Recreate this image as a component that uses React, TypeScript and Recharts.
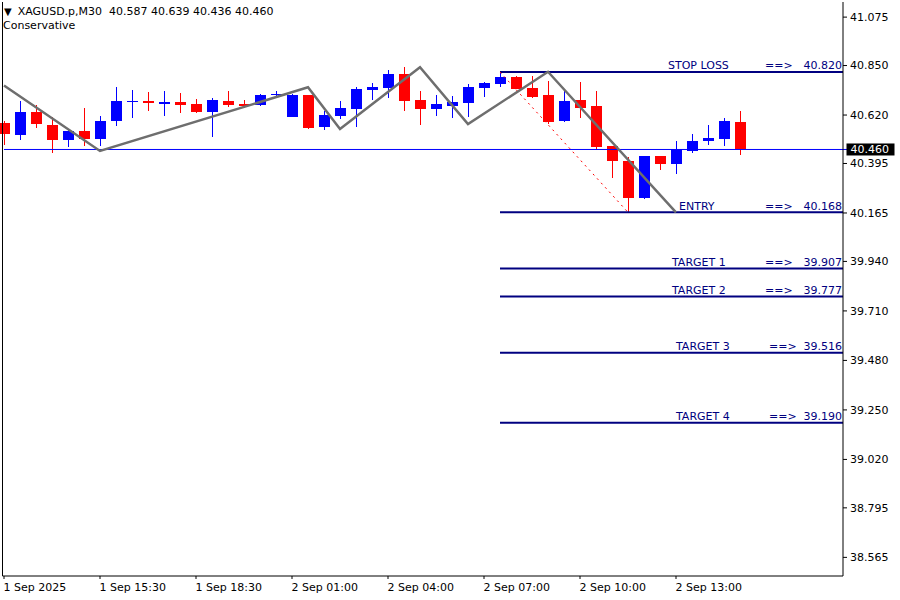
import { ComposedChart, Bar, Line, XAxis, YAxis, ReferenceLine } from 'recharts'

const FONT = '"DejaVu Sans", Tahoma, sans-serif'
const BULL = '#0000ff'
const BEAR = '#ff0000'
const LEVEL_COLOR = '#000080'
const ZIGZAG_COLOR = '#6e6e6e'

const symbol = 'XAGUSD.p,M30'
const strategy = 'Conservative'

// bottom axis labels, one every 6 bars
const timeLabels = ['1 Sep 2025', '1 Sep 15:30', '1 Sep 18:30', '2 Sep 01:00', '2 Sep 04:00', '2 Sep 07:00', '2 Sep 10:00', '2 Sep 13:00']
const timeLabelBars = [0, 6, 12, 18, 24, 30, 36, 42]

const opens = [
  40.584, 40.527, 40.633, 40.574, 40.505, 40.546, 40.510, 40.594, 40.681, 40.685,
  40.673, 40.681, 40.671, 40.636, 40.685, 40.671, 40.667, 40.712, 40.612, 40.713,
  40.566, 40.617, 40.649, 40.738, 40.747, 40.811, 40.690, 40.649, 40.663, 40.677,
  40.747, 40.766, 40.797, 40.746, 40.713, 40.594, 40.690, 40.662, 40.478, 40.406,
  40.233, 40.430, 40.394, 40.454, 40.499, 40.509, 40.587
]
const highs = [
  40.592, 40.687, 40.665, 40.612, 40.549, 40.651, 40.616, 40.750, 40.736, 40.727,
  40.732, 40.722, 40.695, 40.699, 40.732, 40.690, 40.718, 40.732, 40.718, 40.714,
  40.639, 40.685, 40.750, 40.769, 40.831, 40.843, 40.732, 40.713, 40.708, 40.764,
  40.773, 40.825, 40.801, 40.801, 40.778, 40.732, 40.773, 40.732, 40.478, 40.425,
  40.430, 40.430, 40.499, 40.532, 40.574, 40.606, 40.639
]
const lows = [
  40.481, 40.504, 40.561, 40.445, 40.473, 40.476, 40.476, 40.570, 40.608, 40.639,
  40.616, 40.629, 40.629, 40.519, 40.659, 40.654, 40.662, 40.702, 40.611, 40.555,
  40.552, 40.603, 40.566, 40.691, 40.698, 40.640, 40.575, 40.616, 40.608, 40.611,
  40.704, 40.752, 40.742, 40.698, 40.580, 40.589, 40.608, 40.459, 40.329, 40.168,
  40.230, 40.365, 40.347, 40.444, 40.481, 40.476, 40.436
]
const closes = [
  40.533, 40.634, 40.580, 40.505, 40.546, 40.510, 40.592, 40.685, 40.685, 40.677,
  40.681, 40.668, 40.636, 40.690, 40.668, 40.663, 40.713, 40.716, 40.713, 40.561,
  40.620, 40.654, 40.741, 40.752, 40.811, 40.687, 40.649, 40.671, 40.681, 40.750,
  40.769, 40.797, 40.742, 40.704, 40.589, 40.685, 40.654, 40.473, 40.408, 40.236,
  40.430, 40.394, 40.462, 40.499, 40.513, 40.592, 40.460
]

const zigzagBars = [0, 6, 19, 21, 26, 29, 34, 42]
const zigzagPrices = [40.757, 40.453, 40.749, 40.555, 40.842, 40.578, 40.821, 40.168]

const signalBars = [31, 39]
const signalPrices = [40.820, 40.168]

const levelNames = ['STOP LOSS', 'ENTRY', 'TARGET 1', 'TARGET 2', 'TARGET 3', 'TARGET 4']
const levelPrices = [40.820, 40.168, 39.907, 39.777, 39.516, 39.190]
const levelStartBar = 31

const priceTicks = [41.075, 40.850, 40.620, 40.395, 40.165, 39.940, 39.710, 39.480, 39.250, 39.020, 38.795, 38.565]
const lastPrice = 40.460

// layout
const SLOTS = 54
const PRICE_DOMAIN = [38.4784, 41.1452]
const LEVEL_NAME_X = [668, 679, 672, 672, 676, 676]
const LEVEL_ARROW_X = [765, 765, 765, 765, 769, 769]

const rows = Array.from({ length: SLOTS }, (_, i) => {
  const row: any = { i, last: lastPrice }
  if (i < opens.length) {
    row.o = opens[i]
    row.h = highs[i]
    row.l = lows[i]
    row.c = closes[i]
    row.range = [lows[i], highs[i]]
  }
  const z = zigzagBars.indexOf(i)
  if (z >= 0) row.zz = zigzagPrices[z]
  const s = signalBars.indexOf(i)
  if (s >= 0) row.sig = signalPrices[s]
  return row
})

const Candle = (props: any) => {
  const { x, y, width, height, payload } = props
  if (!payload || payload.o == null) return null
  const top = Math.min(y, y + height)
  const bottom = Math.max(y, y + height)
  const k = (bottom - top) / (payload.h - payload.l)
  const py = (v: number) => top + (payload.h - v) * k
  const color = payload.c >= payload.o ? BULL : BEAR
  const cx = Math.floor(x + width / 2) + 0.5
  const bTop = Math.round(py(Math.max(payload.o, payload.c)))
  const bBot = Math.round(py(Math.min(payload.o, payload.c)))
  return (
    <g>
      <line x1={cx} x2={cx} y1={Math.round(top)} y2={Math.round(bottom)} stroke={color} strokeWidth={1} />
      <rect
        x={Math.round(x)}
        y={bTop}
        width={Math.round(width)}
        height={Math.max(1, bBot - bTop)}
        fill={color}
        shapeRendering="crispEdges"
      />
    </g>
  )
}

const TimeTick = (props: any) => {
  const { x, y, payload } = props
  const k = timeLabelBars.indexOf(payload.value)
  if (k < 0) return null
  return (
    <g>
      <line x1={x} x2={x} y1={y} y2={y + 3} stroke="#000" />
      <text x={x - 0.5} y={y + 15} fontSize={11} fontFamily={FONT} fill="#000">
        {timeLabels[k]}
      </text>
    </g>
  )
}

// black price tag on the right axis, hung on the last slot of the last-price line
const PriceTag = (props: any) => {
  const { x, y, index } = props
  if (index !== SLOTS - 1) return null
  return (
    <g>
      <rect x={x - 5.5} y={y - 6} width={48} height={12} fill="#000" />
      <text x={x - 1.5} y={y + 4} fontSize={11} fontFamily={FONT} fill="#fff">
        {lastPrice.toFixed(3)}
      </text>
    </g>
  )
}

const levelLabel = (k: number) => (p: any) => {
  const vb = p.viewBox || {}
  const base = vb.y - 2.5
  return (
    <g fontSize={11} fontFamily={FONT} fill={LEVEL_COLOR}>
      <text x={LEVEL_NAME_X[k]} y={base}>{levelNames[k]}</text>
      <text x={LEVEL_ARROW_X[k]} y={base}>==&gt;</text>
      <text x={842} y={base} textAnchor="end">{levelPrices[k].toFixed(3)}</text>
    </g>
  )
}

export default function App() {
  const last = opens.length - 1
  const ohlc = [opens[last], highs[last], lows[last], closes[last]].map(v => v.toFixed(3)).join(' ')

  return (
    <div style={{ position: 'absolute', left: 0, top: 0, width: 900, height: 600, background: '#fff', fontFamily: FONT }}>
      <ComposedChart width={900} height={600} data={rows} margin={{ top: 2, right: 0, bottom: 0, left: 0 }}>
        <XAxis
          dataKey="i"
          type="category"
          height={24}
          padding={{ left: -6.5, right: -17 }}
          allowDataOverflow
          interval={0}
          tick={<TimeTick />}
          tickLine={false}
          tickSize={0}
          tickMargin={0}
          axisLine={{ stroke: '#000' }}
        />
        <YAxis
          yAxisId="frame"
          orientation="left"
          width={2.5}
          type="number"
          domain={PRICE_DOMAIN}
          allowDataOverflow
          tick={false}
          tickLine={false}
          axisLine={{ stroke: '#000' }}
        />
        <YAxis
          yAxisId="price"
          orientation="right"
          width={57}
          type="number"
          domain={PRICE_DOMAIN}
          allowDataOverflow
          ticks={priceTicks}
          interval={0}
          tickSize={4}
          tickMargin={3}
          tickFormatter={(v: number) => v.toFixed(3)}
          tick={{ fill: '#000', fontSize: 11, fontFamily: FONT }}
          tickLine={{ stroke: '#000' }}
          axisLine={{ stroke: '#000' }}
        />
        {levelPrices.map((price, k) => (
          <ReferenceLine
            key={levelNames[k]}
            yAxisId="price"
            segment={[{ x: levelStartBar, y: price }, { x: SLOTS - 1, y: price }]}
            stroke={LEVEL_COLOR}
            strokeWidth={2}
            ifOverflow="hidden"
            label={levelLabel(k)}
          />
        ))}
        <Line
          yAxisId="price"
          dataKey="last"
          dot={false}
          stroke={BULL}
          strokeWidth={1}
          label={<PriceTag />}
          isAnimationActive={false}
        />
        <Bar yAxisId="price" dataKey="range" barSize={11} shape={<Candle />} isAnimationActive={false} />
        <Line
          yAxisId="price"
          dataKey="sig"
          connectNulls
          dot={false}
          stroke={BEAR}
          strokeWidth={1}
          strokeDasharray="2 4"
          isAnimationActive={false}
        />
        <Line
          yAxisId="price"
          dataKey="zz"
          connectNulls
          dot={false}
          stroke={ZIGZAG_COLOR}
          strokeWidth={2.5}
          isAnimationActive={false}
        />
      </ComposedChart>
      <div style={{ position: 'absolute', left: 4, top: 5, fontSize: 11, lineHeight: '13px', whiteSpace: 'pre', color: '#000' }}>
        <span style={{ fontSize: 10 }}>▼</span>
        <span style={{ marginLeft: 6 }}>{symbol}  {ohlc}</span>
      </div>
      <div style={{ position: 'absolute', left: 3, top: 19, fontSize: 11, lineHeight: '13px', color: '#000' }}>
        {strategy}
      </div>
    </div>
  )
}
